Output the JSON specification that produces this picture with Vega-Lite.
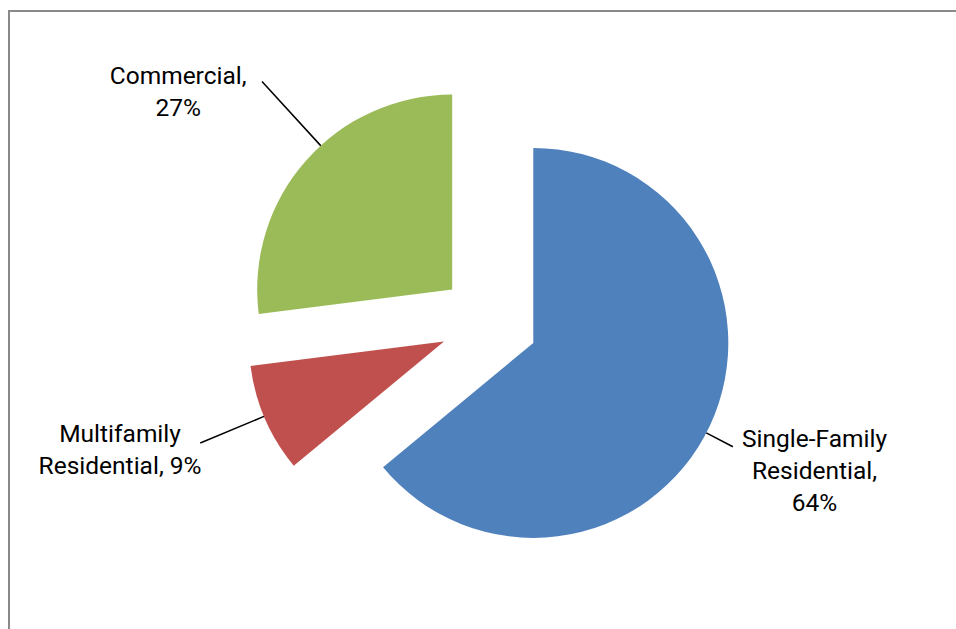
{
  "$schema": "https://vega.github.io/schema/vega-lite/v6.json",
  "autosize": "none",
  "padding": {"left": 9, "top": 11, "right": 0, "bottom": 0},
  "width": 960,
  "height": 622,
  "background": "white",
  "view": {"stroke": "#898989", "strokeWidth": 2},
  "config": {"view": {"stroke": "#898989", "strokeWidth": 2}, "text": {"font": "Roboto", "fontSize": 24.5, "lineHeight": 32, "color": "#000000"}},
  "data": {"values": [
    {"category": "Single-Family Residential", "share": 64, "label": "Single-Family\nResidential,\n64%"},
    {"category": "Multifamily Residential", "share": 9, "label": "Multifamily\nResidential, 9%"},
    {"category": "Commercial", "share": 27, "label": "Commercial,\n27%"}
  ]},
  "transform": [{"stack": "share", "groupby": [], "as": ["v0", "v1"]}],
  "layer": [
    {
      "transform": [{"filter": "datum.category === 'Single-Family Residential'"}],
      "layer": [
        {"mark": {"type": "arc", "outerRadius": 195, "innerRadius": 0, "fill": "#4F81BD", "xOffset": 44.3, "yOffset": 20.9},
         "encoding": {"theta": {"field": "v0", "type": "quantitative", "scale": {"domain": [0, 100]}, "stack": null}, "theta2": {"field": "v1"}}},
        {"transform": [{"fold": ["v0", "v1"], "as": ["edge", "ang"]}, {"aggregate": [{"op": "mean", "field": "ang", "as": "mid"}], "groupby": ["category", "label"]}],
         "encoding": {"theta": {"field": "mid", "type": "quantitative", "scale": {"domain": [0, 100]}, "stack": null}},
         "layer": [
           {"mark": {"type": "arc", "innerRadius": 195, "outerRadius": 225, "thetaOffset": 0.04, "theta2Offset": 0.04, "filled": false, "color": "#000000", "strokeWidth": 1.5, "xOffset": 44.3, "yOffset": 20.9},
            "encoding": {"theta2": {"field": "mid"}}},
           {"mark": {"type": "text", "radius": 309, "xOffset": 44.3, "yOffset": 20.9, "dx": 1.6, "dy": -34, "lineBreak": "\n", "align": "center", "baseline": "middle"},
            "encoding": {"text": {"field": "label", "type": "nominal"}}}
         ]}
      ]
    },
    {
      "transform": [{"filter": "datum.category === 'Multifamily Residential'"}],
      "layer": [
        {"mark": {"type": "arc", "outerRadius": 195, "innerRadius": 0, "fill": "#C0504D", "xOffset": -45, "yOffset": 19.5},
         "encoding": {"theta": {"field": "v0", "type": "quantitative", "scale": {"domain": [0, 100]}, "stack": null}, "theta2": {"field": "v1"}}},
        {"transform": [{"fold": ["v0", "v1"], "as": ["edge", "ang"]}, {"aggregate": [{"op": "mean", "field": "ang", "as": "mid"}], "groupby": ["category", "label"]}],
         "encoding": {"theta": {"field": "mid", "type": "quantitative", "scale": {"domain": [0, 100]}, "stack": null}},
         "layer": [
           {"mark": {"type": "arc", "innerRadius": 195, "outerRadius": 264, "thetaOffset": 0.014, "theta2Offset": 0.014, "filled": false, "color": "#000000", "strokeWidth": 1.5, "xOffset": -45, "yOffset": 19.5},
            "encoding": {"theta2": {"field": "mid"}}},
           {"mark": {"type": "text", "radius": 341, "xOffset": -45, "yOffset": 19.5, "dx": -11, "dy": -42, "lineBreak": "\n", "align": "center", "baseline": "middle"},
            "encoding": {"text": {"field": "label", "type": "nominal"}}}
         ]}
      ]
    },
    {
      "transform": [{"filter": "datum.category === 'Commercial'"}],
      "layer": [
        {"mark": {"type": "arc", "outerRadius": 195, "innerRadius": 0, "fill": "#9BBB59", "xOffset": -36.8, "yOffset": -32.4},
         "encoding": {"theta": {"field": "v0", "type": "quantitative", "scale": {"domain": [0, 100]}, "stack": null}, "theta2": {"field": "v1"}}},
        {"transform": [{"fold": ["v0", "v1"], "as": ["edge", "ang"]}, {"aggregate": [{"op": "mean", "field": "ang", "as": "mid"}], "groupby": ["category", "label"]}],
         "encoding": {"theta": {"field": "mid", "type": "quantitative", "scale": {"domain": [0, 100]}, "stack": null}},
         "layer": [
           {"mark": {"type": "arc", "innerRadius": 195, "outerRadius": 282, "thetaOffset": 0.108, "theta2Offset": 0.108, "filled": false, "color": "#000000", "strokeWidth": 1.5, "xOffset": -36.8, "yOffset": -32.4},
            "encoding": {"theta2": {"field": "mid"}}},
           {"mark": {"type": "text", "radius": 336, "xOffset": -36.8, "yOffset": -32.4, "dx": -22, "dy": 10, "lineBreak": "\n", "align": "center", "baseline": "middle"},
            "encoding": {"text": {"field": "label", "type": "nominal"}}}
         ]}
      ]
    }
  ]
}
